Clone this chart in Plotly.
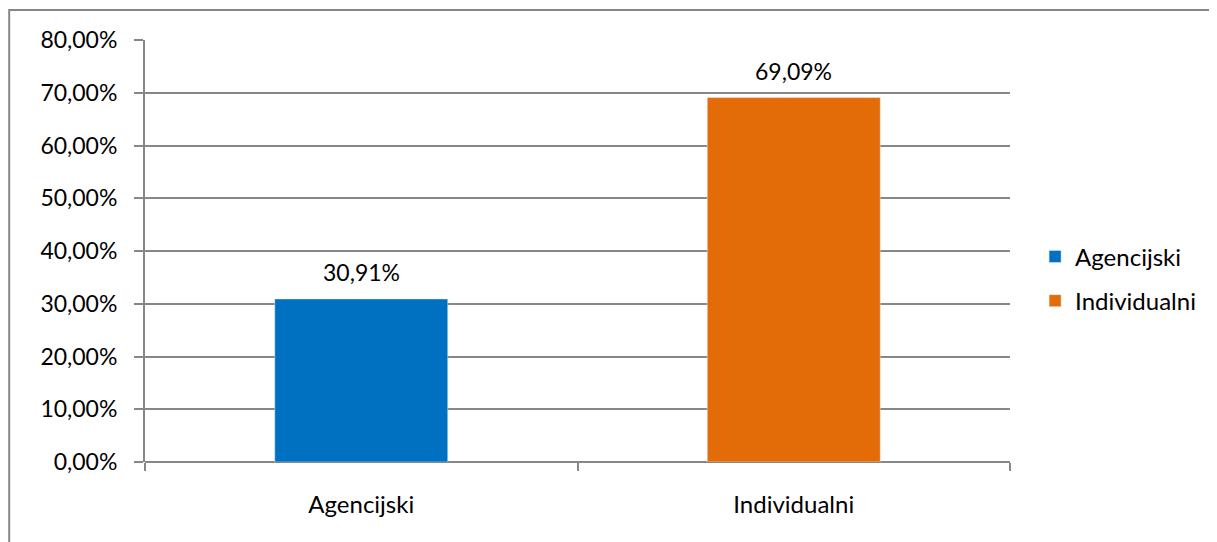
import plotly.graph_objects as go

categories = ["Agencijski", "Individualni"]
shares = [0.3091, 0.6909]
colors = ["#0070C0", "#E36C09"]
y_ticks = [0, 0.1, 0.2, 0.3, 0.4, 0.5, 0.6, 0.7, 0.8]

FONT = "Lato, Calibri, sans-serif"
GRID = "#878787"

fig = go.Figure()
for i, (cat, val, col) in enumerate(zip(categories, shares, colors)):
    fig.add_trace(go.Bar(
        x=[cat], y=[val], name=cat, marker_color=col,
        width=0.4, legendgroup=f"g{i}",
    ))
    fig.add_annotation(
        x=cat, y=val, text=f"{val * 100:.2f}%".replace(".", ","),
        showarrow=False, yshift=27, font=dict(size=23, color="#000000"),
    )

# the page body adds an 8px offset, so margins are trimmed to compensate
fig.update_layout(
    barmode="overlay",
    separators=",.",
    width=1217, height=542,
    margin=dict(l=137, r=215, t=32, b=88),
    paper_bgcolor="white", plot_bgcolor="white",
    font=dict(family=FONT, size=24, color="#000000"),
    legend=dict(x=1.029, y=0.434, xanchor="left", yanchor="middle",
                tracegroupgap=10, font=dict(size=24)),
    xaxis=dict(
        showline=False, ticks="outside", tickson="boundaries",
        ticklen=8, tickwidth=2, tickcolor=GRID, showgrid=False,
        zeroline=False, ticklabelstandoff=26,
    ),
    yaxis=dict(
        range=[0, 0.8], tickvals=y_ticks, tickformat=".2%",
        showline=True, linecolor=GRID, linewidth=2,
        ticks="outside", ticklen=9, tickwidth=2, tickcolor=GRID,
        showgrid=True, gridcolor=GRID, gridwidth=2,
        zeroline=True, zerolinecolor=GRID, zerolinewidth=2,
        ticklabelstandoff=12, tickfont=dict(size=23),
    ),
    shapes=[dict(type="rect", xref="paper", yref="paper",
                 x0=-0.157, x1=1.6, y0=-0.5, y1=1.071,
                 line=dict(color=GRID, width=2), layer="below")],
)

fig.write_html("out.html")
